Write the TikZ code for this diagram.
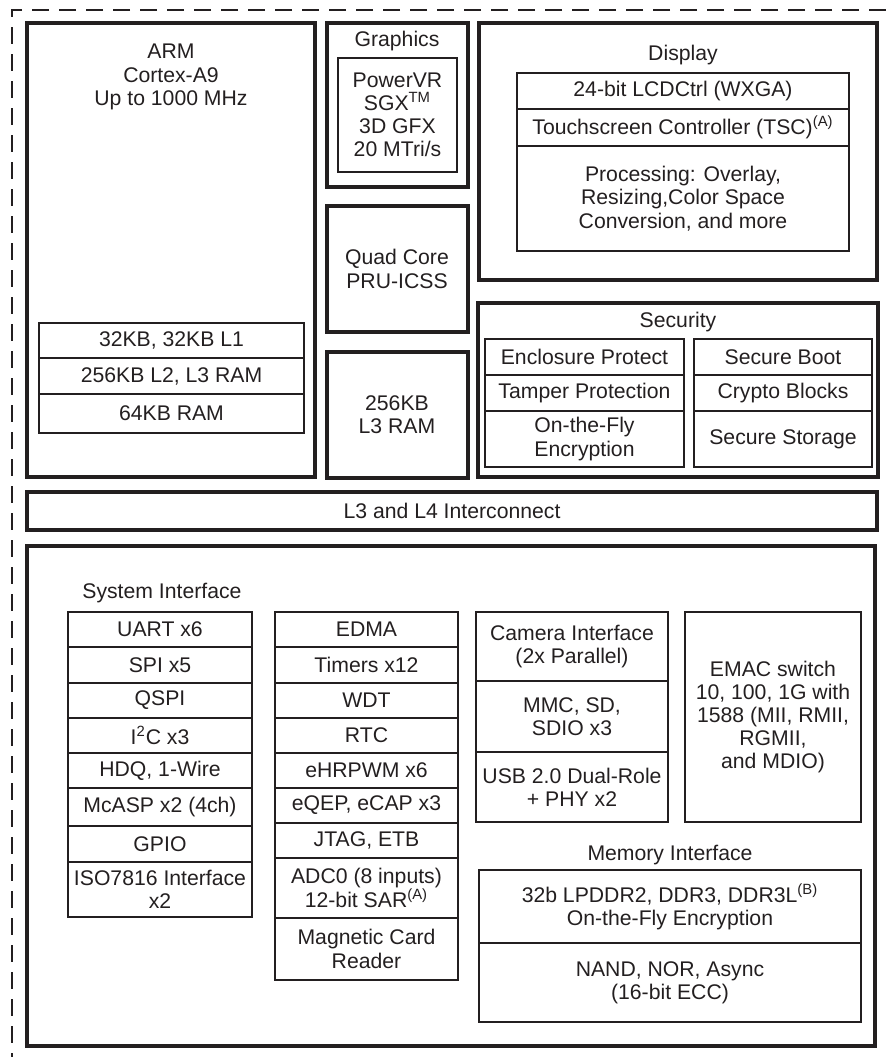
\documentclass[tikz,border=0pt]{standalone}
\usepackage{fontspec}
\setmainfont{Liberation Sans}
\usepackage{tikz}
\definecolor{ink}{HTML}{231F20}
\newcommand{\cell}[6]{\draw[thinbox] (#2,#3) rectangle (#4,#5);\node[lbl] (#1) at ({(#2+#4)/2},{(#3+#5)/2}) {#6};}
\newcommand{\unit}[4]{\draw[thickbox] (#1,#2) rectangle (#3,#4);}
\begin{document}
\begin{tikzpicture}[x=0.5pt,y=-0.5pt,thickbox/.style={draw=ink,line width=1.6pt},thinbox/.style={draw=ink,line width=0.8pt},lbl/.style={align=center,inner sep=0pt,text=ink,font=\fontsize{10.6}{11.6}\selectfont}]
\useasboundingbox (0,0) rectangle (886,1057);
\draw[ink,line width=1.2pt,dash pattern=on 8.5pt off 5pt] (886,10)--(12,10)--(12,1057);
\unit{27}{23}{315}{477}\node[lbl] (arm) at (171,77){ARM\\Cortex-A9\\Up to 1000 MHz};
\cell{lone}{39}{323}{304}{358}{32KB, 32KB L1}
\cell{ltwo}{39}{358}{304}{394}{256KB L2, L3 RAM}
\cell{ram}{39}{394}{304}{433}{64KB RAM}
\unit{327}{23}{468}{187}\node[lbl] (gfx) at (397,41){Graphics};
\cell{sgx}{338}{58}{457}{172}{\fontsize{10.6}{12.4}\selectfont PowerVR\\SGX\textsuperscript{TM}\\3D GFX\\20 MTri/s}
\unit{327}{206}{468}{332}\node[lbl] (pru) at (397,269){Quad Core\\PRU-ICSS};
\unit{327}{352}{468}{478}\node[lbl] (ocmc) at (397,415){256KB\\L3 RAM};
\unit{479}{23}{877}{280}\node[lbl] (disp) at (683,55){Display};
\cell{lcd}{517}{73}{849}{109}{24-bit LCDCtrl (WXGA)}
\cell{tsc}{517}{109}{849}{146}{Touchscreen Controller (TSC)\textsuperscript{(A)}}
\cell{dss}{517}{146}{849}{251}{Processing: Overlay,\\Resizing,Color Space\\Conversion, and more}
\unit{478}{303}{878}{477}\node[lbl] (sec) at (678,322){Security};
\cell{encl}{485}{339}{684}{375}{Enclosure Protect}
\cell{tamp}{485}{375}{684}{411}{Tamper Protection}
\cell{otfa}{485}{411}{684}{467}{On-the-Fly\\Encryption}
\cell{boot}{694}{339}{872}{375}{Secure Boot}
\cell{crypto}{694}{375}{872}{411}{Crypto Blocks}
\cell{store}{694}{411}{872}{467}{Secure Storage}
\unit{27}{492}{877}{530}\node[lbl] (lthree) at (452,511){L3 and L4 Interconnect};
\unit{27}{546}{875}{1046}
\node[lbl,anchor=west] (sysif) at (82,593){System Interface};
\cell{uart}{68}{612}{252}{647}{UART x6}
\cell{spi}{68}{647}{252}{683}{SPI x5}
\cell{qspi}{68}{683}{252}{718}{QSPI}
\cell{iic}{68}{718}{252}{753}{I\textsuperscript{2}C x3}
\cell{hdq}{68}{753}{252}{788}{HDQ, 1-Wire}
\cell{mcasp}{68}{788}{252}{826}{McASP x2 (4ch)}
\cell{gpio}{68}{826}{252}{862}{GPIO}
\cell{iso}{68}{862}{252}{917}{ISO7816 Interface\\x2}
\cell{edma}{275}{612}{458}{647}{EDMA}
\cell{timers}{275}{647}{458}{683}{Timers x12}
\cell{wdt}{275}{683}{458}{718}{WDT}
\cell{rtc}{275}{718}{458}{753}{RTC}
\cell{pwm}{275}{753}{458}{788}{eHRPWM x6}
\cell{qep}{275}{788}{458}{823}{eQEP, eCAP x3}
\cell{jtag}{275}{823}{458}{858}{JTAG, ETB}
\cell{adc}{275}{858}{458}{918}{ADC0 (8 inputs)\\12-bit SAR\textsuperscript{(A)}}
\cell{mag}{275}{918}{458}{980}{Magnetic Card\\Reader}
\cell{cam}{476}{612}{668}{681}{Camera Interface\\(2x Parallel)}
\cell{mmc}{476}{681}{668}{752}{MMC, SD,\\SDIO x3}
\cell{usb}{476}{752}{668}{822}{USB 2.0 Dual-Role\\+ PHY x2}
\cell{emac}{685}{612}{861}{822}{EMAC switch\\10, 100, 1G with\\1588 (MII, RMII,\\RGMII,\\and MDIO)}
\node[lbl] (memif) at (670,855){Memory Interface};
\cell{ddr}{479}{870}{861}{943}{32b LPDDR2, DDR3, DDR3L\textsuperscript{(B)}\\On-the-Fly Encryption}
\cell{gpmc}{479}{943}{861}{1022}{NAND, NOR, Async\\(16-bit ECC)}
\end{tikzpicture}
\end{document}
